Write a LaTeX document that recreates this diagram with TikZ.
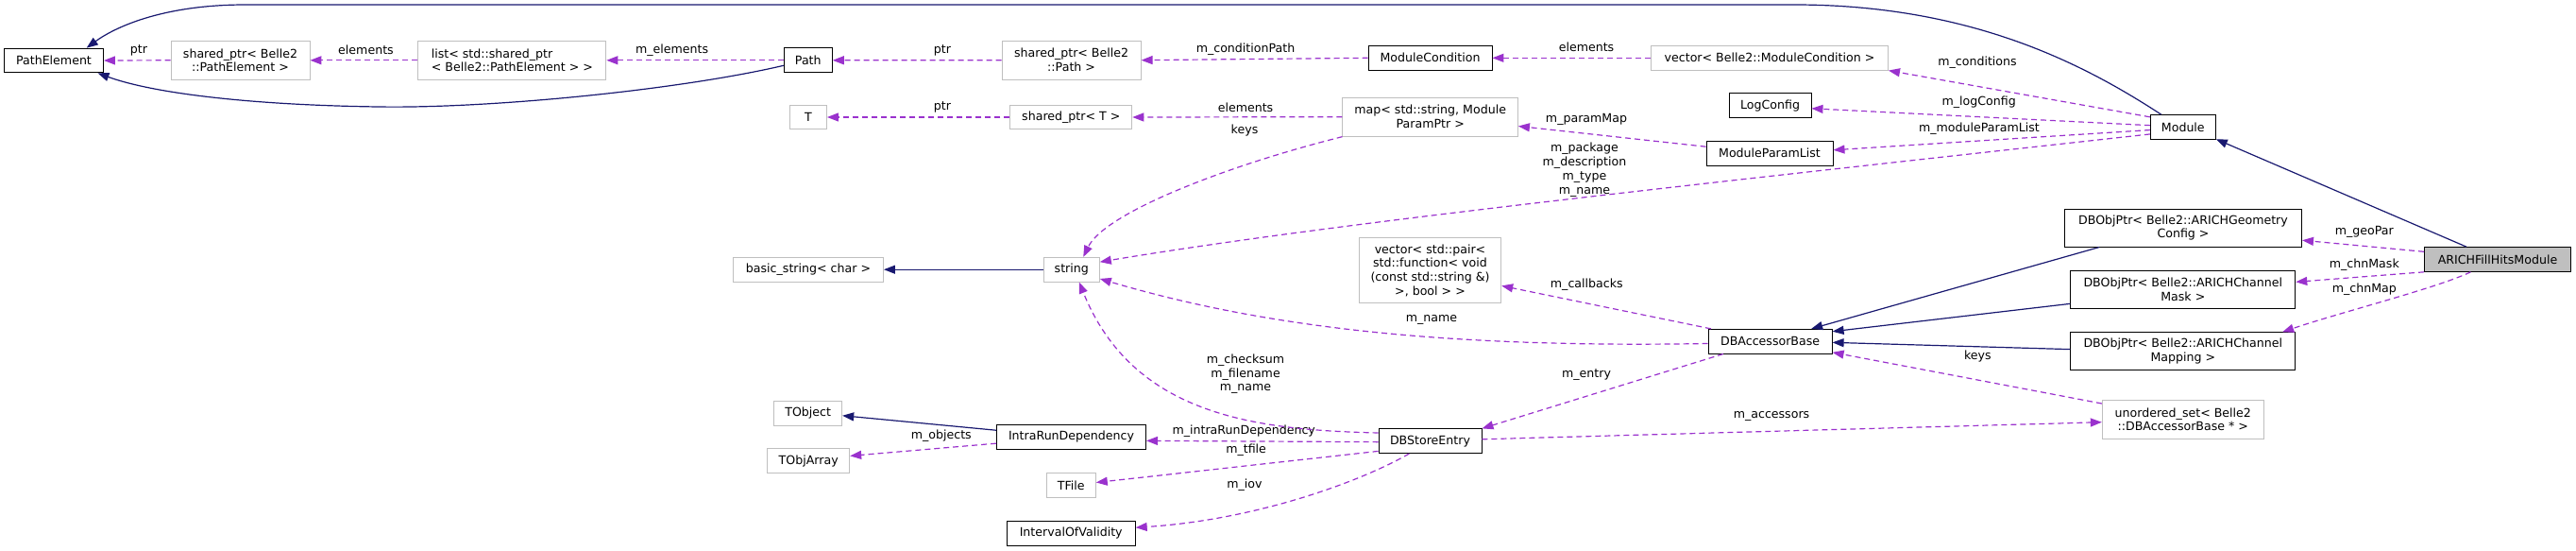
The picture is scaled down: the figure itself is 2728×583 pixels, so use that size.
\documentclass[tikz,border=0pt]{standalone}
\usepackage{fontspec}
\setmainfont{DejaVu Sans}
\usepackage{tikz}
\usetikzlibrary{arrows.meta}

\definecolor{inhblue}{HTML}{191970}
\definecolor{usepurple}{HTML}{9A32CD}
\definecolor{boxgray}{HTML}{BFBFBF}

\tikzset{
  cls/.style={draw=black, line width=0.95pt, fill=white, inner xsep=2pt, inner ysep=1pt,
    minimum height=25.7pt, align=center, font=\fontsize{12.6}{14.8}\selectfont},
  ext/.style={cls, draw=boxgray},
  focus/.style={cls, fill=boxgray},
  lbl/.style={inner sep=0pt, align=center, yshift=2.5pt, font=\fontsize{12.6}{14.8}\selectfont},
  inherit/.style={draw=inhblue, line width=1.2pt, -{Triangle[length=12pt,width=9pt]}},
  uses/.style={draw=usepurple, line width=1.2pt, dash pattern=on 6pt off 4pt,
    -{Triangle[length=12pt,width=9pt]}}
}

\begin{document}
\begin{tikzpicture}[x=1pt,y=-1pt]
            \useasboundingbox (0,0) rectangle (2728,583);

            % classes
            \node[cls, minimum width=105pt] (pathelem) at (57,64) {PathElement};
            \node[ext, minimum width=147pt, minimum height=41pt] (spelem) at (254.5,63.8) {shared\_ptr< Belle2\\::PathElement >};
            \node[ext, minimum width=199pt, minimum height=41pt, align=left] (listelem) at (542.4,63.8) {list< std::shared\_ptr\\< Belle2::PathElement > >};
            \node[cls, minimum width=51pt] (pathcls) at (855.8,63.8) {Path};
            \node[ext, minimum width=147pt, minimum height=41pt] (sppath) at (1134.6,63.7) {shared\_ptr< Belle2\\::Path >};
            \node[cls, minimum width=131pt] (modcond) at (1514.5,61.3) {ModuleCondition};
            \node[ext, minimum width=251pt] (vecmodcond) at (1874,61.3) {vector< Belle2::ModuleCondition >};
            \node[ext, minimum width=39pt] (tnode) at (856,124) {T};
            \node[ext, minimum width=129pt] (spt) at (1134.3,124) {shared\_ptr< T >};
            \node[ext, minimum width=185.5pt, minimum height=41pt] (parammap) at (1514.7,123.7) {map< std::string, Module\\ParamPtr >};
            \node[cls, minimum width=87pt] (logcfg) at (1874.5,111.7) {LogConfig};
            \node[cls, minimum width=134pt] (paramlist) at (1874,162.3) {ModuleParamList};
            \node[cls, minimum width=69pt] (module) at (2311.8,134.5) {Module};
            \node[ext, minimum width=159pt] (basicstr) at (856,285.2) {basic\_string< char >};
            \node[ext, minimum width=59pt] (string) at (1134.8,285.2) {string};
            \node[ext, minimum width=150.4pt, minimum height=69.3pt] (callbacks) at (1514.5,286.3) {vector< std::pair<\\std::function< void\\(const std::string \&)\\>, bool > >};
            \node[cls, minimum width=251pt, minimum height=40pt] (geopar) at (2312,241) {DBObjPtr< Belle2::ARICHGeometry\\Config >};
            \node[focus, minimum width=155pt] (fillhits) at (2645,274.5) {ARICHFillHitsModule};
            \node[cls, minimum width=238pt, minimum height=40pt] (chnmask) at (2311.8,306.7) {DBObjPtr< Belle2::ARICHChannel\\Mask >};
            \node[cls, minimum width=238pt, minimum height=40pt] (chnmap) at (2311.8,371.7) {DBObjPtr< Belle2::ARICHChannel\\Mapping >};
            \node[cls, minimum width=131pt] (accbase) at (1874.6,361.2) {DBAccessorBase};
            \node[ext, minimum width=171pt, minimum height=41pt] (accset) at (2311.8,443.7) {unordered\_set< Belle2\\::DBAccessorBase * >};
            \node[ext, minimum width=72pt] (tobject) at (855.7,437.2) {TObject};
            \node[ext, minimum width=87pt] (tobjarr) at (856.2,487.8) {TObjArray};
            \node[cls, minimum width=158pt] (intrarun) at (1134.5,462.2) {IntraRunDependency};
            \node[cls, minimum width=109pt] (storeentry) at (1514.5,466.7) {DBStoreEntry};
            \node[ext, minimum width=52pt] (tfile) at (1134.3,513.3) {TFile};
            \node[cls, minimum width=136pt] (iov) at (1134.2,564.2) {IntervalOfValidity};

            % member labels
            \node[lbl] (lptra) at (147,55.7) {ptr};
            \node[lbl] (lelema) at (387.5,55.7) {elements};
            \node[lbl] (lmelem) at (711.6,55.7) {m\_elements};
            \node[lbl] (lptrb) at (998,55.7) {ptr};
            \node[lbl] (lcondpath) at (1319,55) {m\_conditionPath};
            \node[lbl] (lelemb) at (1680,52.7) {elements};
            \node[lbl] (lconds) at (2094,68.7) {m\_conditions};
            \node[lbl] (llogcfg) at (2095.7,110.7) {m\_logConfig};
            \node[lbl] (lmplist) at (2096,138.3) {m\_moduleParamList};
            \node[lbl] (lmpkg) at (1678,182) {m\_package\\m\_description\\m\_type\\m\_name};
            \node[lbl] (lpmap) at (1680,128.7) {m\_paramMap};
            \node[lbl] (lelemc) at (1319,116) {elements};
            \node[lbl] (lptrc) at (998,116) {ptr};
            \node[lbl] (lkeysa) at (1318,140.7) {keys};
            \node[lbl] (lcallb) at (1680.3,303.3) {m\_callbacks};
            \node[lbl] (lname) at (1516,340.7) {m\_name};
            \node[lbl] (lentry) at (1680,399) {m\_entry};
            \node[lbl] (lchecks) at (1319,398.3) {m\_checksum\\m\_filename\\m\_name};
            \node[lbl] (lintra) at (1317.2,459) {m\_intraRunDependency};
            \node[lbl] (ltfile) at (1319.6,479) {m\_tfile};
            \node[lbl] (liov) at (1318,516) {m\_iov};
            \node[lbl] (lacc) at (1876,443.3) {m\_accessors};
            \node[lbl] (lkeysb) at (2094.3,380) {keys};
            \node[lbl] (lobj) at (996.8,463.3) {m\_objects};
            \node[lbl] (lgeo) at (2503.8,247.7) {m\_geoPar};
            \node[lbl] (lmask) at (2503.8,282.7) {m\_chnMask};
            \node[lbl] (lmap) at (2503.8,308.3) {m\_chnMap};

            % inheritance
            \draw[inherit] (module.150) .. controls (2210,70) and (2090,5) .. (1900,5) -- (260,5) .. controls (170,5) and (120,30) .. (pathelem.21);
            \draw[inherit] (pathcls.192) .. controls (720,95) and (520,115) .. (400,113) .. controls (260,111) and (160,98) .. (pathelem.-16);
            \draw[inherit] (string.west) -- (basicstr.east);
            \draw[inherit] (intrarun.175) -- (tobject.-4);
            \draw[inherit] (fillhits.158) -- (module.-20);
            \draw[inherit] (geopar.193) -- (accbase.17);
            \draw[inherit] (chnmask.187) -- (accbase.9);
            \draw[inherit] (chnmap.179) -- (accbase.-1);

            % usage
            \draw[uses] (spelem.west) -- (pathelem.east);
            \draw[uses] (listelem.west) -- (spelem.east);
            \draw[uses] (pathcls.west) -- (listelem.east);
            \draw[uses] (sppath.west) -- (pathcls.east);
            \draw[uses] (modcond.west) -- (sppath.east);
            \draw[uses] (vecmodcond.west) -- (modcond.east);
            \draw[uses] (module.163) -- (vecmodcond.south east);
            \draw[uses] (module.177) -- (logcfg.-4);
            \draw[uses] (module.185) -- (paramlist.3);
            \draw[uses] (module.192) .. controls (1750,200) and (1400,238) .. (string.15);
            \draw[uses] (paramlist.174) -- (parammap.-6);
            \draw[uses] (parammap.west) -- (spt.east);
            \draw[uses] (spt.west) -- (tnode.east);
            \draw[uses] (parammap.south west) .. controls (1300,175) and (1170,225) .. (string.47);
            \draw[uses] (accbase.168) -- (callbacks.-12);
            \draw[uses] (accbase.182) .. controls (1550,368) and (1350,350) .. (string.-18);
            \draw[uses] (accbase.195) -- (storeentry.north east);
            \draw[uses] (storeentry.171) .. controls (1330,455) and (1200,440) .. (string.-59);
            \draw[uses] (storeentry.181) -- (intrarun.-3);
            \draw[uses] (storeentry.191) -- (tfile.6);
            \draw[uses] (storeentry.211) .. controls (1440,510) and (1330,550) .. (iov.5);
            \draw[uses] (storeentry.2) -- (accset.182);
            \draw[uses] (accset.169) -- (accbase.-10);
            \draw[uses] (intrarun.185) -- (tobjarr.7);
            \draw[uses] (fillhits.174) -- (geopar.-6);
            \draw[uses] (fillhits.south west) -- (chnmask.4);
            \draw[uses] (fillhits.205) .. controls (2580,305) and (2480,330) .. (chnmap.11);
        \end{tikzpicture}
\end{document}
